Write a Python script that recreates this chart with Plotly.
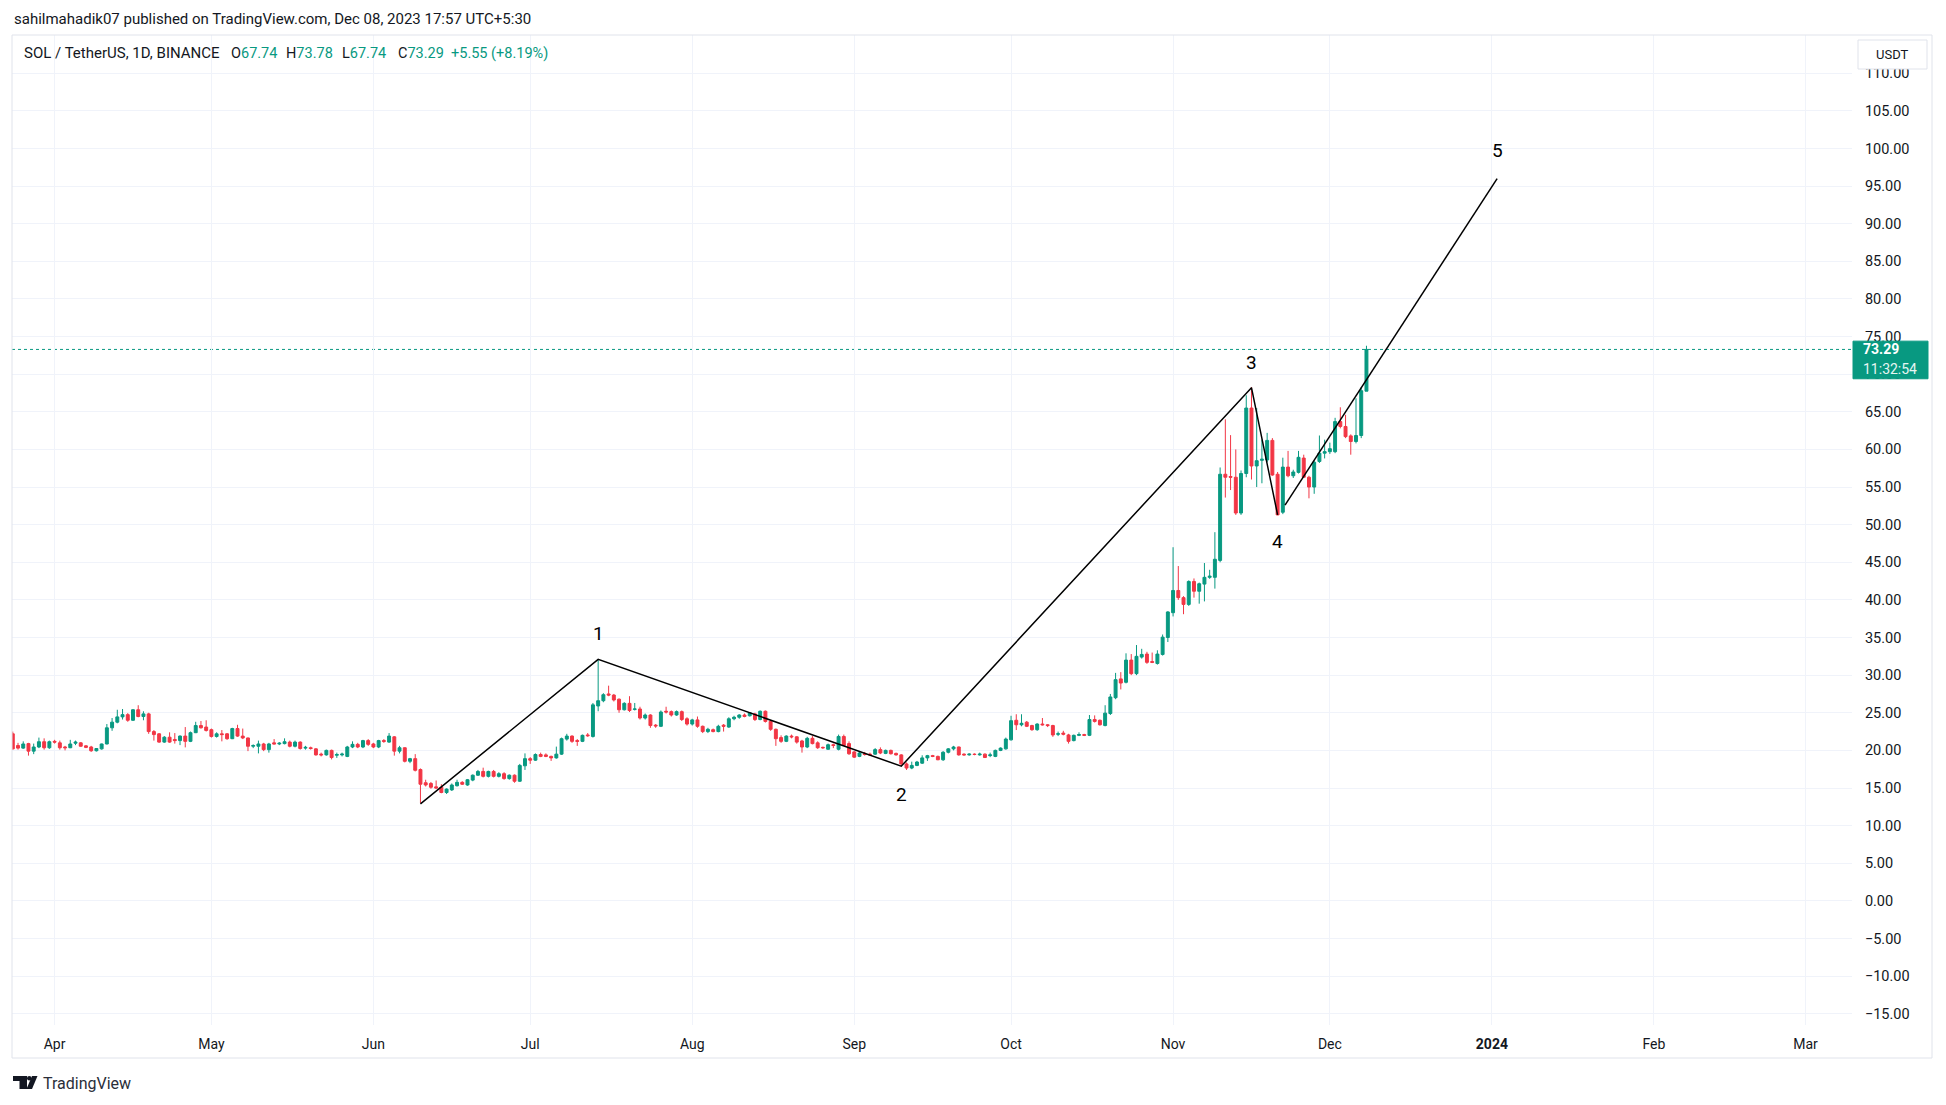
import pandas as pd
import plotly.graph_objects as go

# ---------------- data ----------------
start_date = "2023-03-24"

opens = [
    22.2, 20.65, 20.3, 20.9, 19.9, 20.45, 21.15, 20.35,
    21.2, 21.0, 20.45, 20.35, 20.95, 21.0, 20.6, 20.45, 19.95, 20.2, 20.85, 23.0, 23.75, 24.45, 24.75, 24.0, 25.4, 24.5, 24.85, 22.5, 22.2, 21.1, 21.75, 21.45, 21.3, 21.9, 21.2, 22.35, 23.3, 23.1,
    22.75, 21.85, 22.2, 22.2, 21.55, 22.9, 21.9, 21.65, 20.55, 20.55, 20.85, 20.1, 21.0, 20.85, 20.9, 21.1, 20.55, 21.1, 20.3, 20.35, 20.2, 19.5, 19.4, 20.0, 19.35, 19.4, 19.2, 20.45, 20.8, 20.45, 21.3,
    20.85, 20.45, 21.3, 21.1, 21.8, 19.9, 20.35, 18.55, 18.9, 17.45, 15.7, 15.6, 15.15, 15.1, 14.4, 14.75, 15.3, 15.75, 15.4, 16.05, 16.7, 17.2, 16.55, 17.2, 16.55, 16.9, 16.25, 16.7, 15.9, 17.95,
    18.9, 18.7, 19.45, 19.4, 19.2, 19.0, 19.5, 21.5, 21.9, 21.3, 21.2, 22.05, 21.85, 25.9, 26.6, 27.5, 27.35, 26.8, 25.4, 26.25, 25.45, 25.5, 24.3, 24.7, 23.35, 23.2, 25.2, 25.15, 24.7, 25.15, 24.2,
    23.5, 24.05, 23.2, 22.5, 22.75, 22.5, 23.35, 23.1, 24.2, 24.4, 24.7, 24.6, 24.85, 24.1, 25.2, 23.85, 22.8, 21.7, 21.2, 21.9, 21.8, 21.25, 20.45, 21.6, 21.0, 20.4, 20.15, 20.75, 20.15, 21.85, 20.9,
    19.8, 19.2, 19.55, 19.5, 19.5, 20.1, 19.6, 20.0, 19.6, 19.4, 18.2, 17.65, 18.0, 18.3, 19.0, 19.3, 19.2, 18.75, 19.75, 20.2, 20.45, 19.5, 19.4, 19.5, 19.4, 19.5, 19.3, 19.2, 20.0, 20.2,
    21.4, 24.0, 23.4, 23.75, 23.3, 22.75, 23.5, 23.4, 23.3, 22.15, 22.3, 22.05, 21.3, 22.0, 22.1, 22.0, 24.1, 24.0, 23.3, 24.9, 27.0, 29.5, 29.05, 32.0, 30.2, 32.4, 32.8, 31.8, 31.55, 32.75, 35.0,
    38.3, 41.25, 40.3, 39.4, 42.45, 41.15, 42.1, 43.0, 43.0, 45.25, 56.7, 56.4, 56.3, 51.55, 56.8, 65.5, 57.8, 58.55, 58.6, 61.2, 56.7, 51.65, 57.65, 56.5, 56.95, 58.85, 56.3, 55.0, 58.4, 59.5,
    59.7, 59.7, 63.7, 63.05, 61.8, 61.05, 61.85, 67.74,
]
highs = [
    22.5, 21.0, 21.2, 21.0, 20.9, 21.7, 21.6, 21.3,
    21.4, 21.3, 20.6, 21.4, 21.3, 21.1, 20.7, 20.6, 20.3, 20.9, 23.5, 24.3, 25.4, 25.5, 24.95, 25.5, 26.0, 25.2, 25.0, 22.7, 22.3, 21.9, 22.4, 22.3, 22.0, 23.1, 22.5, 23.8, 23.9, 24.0,
    22.9, 22.4, 22.7, 22.3, 23.0, 23.4, 22.9, 21.7, 20.8, 21.3, 21.0, 21.0, 21.5, 21.1, 21.6, 21.3, 21.3, 21.2, 20.6, 20.5, 20.3, 19.7, 20.1, 20.1, 19.7, 19.7, 20.6, 21.2, 21.0, 21.4, 21.5,
    21.0, 21.4, 21.5, 22.3, 21.9, 20.6, 20.4, 19.0, 19.5, 17.6, 16.1, 15.8, 16.0, 15.5, 14.95, 15.6, 16.1, 15.9, 16.2, 16.8, 17.4, 17.7, 17.3, 17.4, 17.1, 17.1, 16.8, 16.8, 18.2, 19.6,
    19.1, 19.6, 19.7, 19.6, 19.3, 20.5, 21.7, 22.2, 22.0, 21.5, 22.1, 22.3, 26.3, 32.1, 27.6, 28.6, 27.5, 26.9, 26.4, 27.2, 26.3, 25.8, 24.9, 24.8, 23.5, 25.3, 25.8, 25.3, 25.3, 25.3, 24.4,
    24.2, 24.5, 23.3, 23.0, 22.9, 23.4, 23.5, 24.4, 24.6, 24.8, 24.9, 25.1, 25.0, 25.3, 25.3, 24.0, 22.9, 22.0, 22.0, 22.1, 21.9, 21.4, 21.8, 21.9, 21.2, 20.5, 20.9, 20.9, 22.1, 22.1, 21.2,
    19.9, 19.8, 19.8, 19.7, 20.3, 20.4, 20.1, 20.1, 19.7, 19.5, 18.4, 18.5, 18.6, 19.35, 19.4, 19.4, 19.3, 19.9, 20.3, 20.6, 20.5, 19.6, 19.6, 19.6, 19.7, 19.6, 19.7, 20.1, 20.4, 21.7,
    24.6, 24.8, 24.8, 23.9, 23.4, 23.6, 24.3, 23.5, 23.4, 22.5, 22.6, 22.2, 22.1, 22.4, 22.2, 24.7, 24.65, 24.1, 26.0, 27.5, 30.3, 30.4, 32.9, 32.8, 34.0, 33.5, 33.1, 33.0, 33.3, 35.4, 38.5,
    47.0, 44.5, 40.5, 42.6, 42.85, 42.3, 44.9, 44.0, 49.0, 57.6, 64.0, 61.9, 60.0, 57.2, 67.2, 68.3, 65.5, 61.3, 62.2, 61.5, 57.0, 58.9, 59.8, 57.3, 59.8, 59.3, 56.5, 58.5, 61.85, 61.3,
    60.9, 64.2, 65.6, 64.6, 62.0, 66.8, 68.3, 73.78,
]
lows = [
    20.1, 20.1, 20.2, 19.3, 19.5, 20.3, 20.1, 20.2,
    20.9, 20.1, 20.0, 20.3, 20.7, 20.5, 20.3, 19.8, 19.85, 20.1, 20.8, 22.6, 23.6, 24.1, 23.8, 23.9, 24.4, 24.0, 22.2, 21.3, 21.0, 21.0, 21.0, 20.9, 20.7, 20.4, 21.1, 22.3, 22.9, 22.5,
    21.7, 21.7, 21.2, 21.4, 21.5, 21.8, 21.5, 19.9, 20.3, 19.6, 19.9, 19.7, 20.8, 20.7, 20.8, 20.4, 20.4, 20.1, 20.1, 20.1, 19.3, 19.2, 19.3, 18.8, 19.0, 19.2, 19.1, 20.3, 20.3, 20.3, 20.6,
    20.3, 20.3, 21.0, 21.0, 19.3, 19.6, 18.4, 18.3, 17.2, 13.0, 15.2, 14.9, 14.9, 14.3, 14.2, 14.6, 15.2, 15.4, 15.3, 15.9, 16.6, 16.4, 16.4, 16.4, 16.4, 16.1, 16.1, 15.7, 15.8, 17.4,
    18.2, 18.6, 19.1, 19.1, 18.6, 18.9, 19.4, 21.3, 21.0, 20.6, 21.1, 21.8, 21.7, 25.2, 26.4, 27.2, 26.5, 25.0, 25.3, 25.1, 25.3, 24.1, 24.1, 23.0, 23.0, 23.1, 24.9, 24.5, 24.6, 23.9, 23.3,
    23.3, 23.0, 22.3, 22.3, 22.4, 22.4, 22.5, 23.0, 24.0, 24.2, 24.4, 24.5, 23.9, 24.0, 23.7, 22.6, 20.6, 21.0, 21.1, 21.6, 20.9, 19.7, 20.3, 20.8, 20.2, 20.2, 20.1, 20.3, 20.0, 20.6, 19.4,
    19.0, 19.1, 19.3, 19.3, 19.4, 19.5, 19.5, 19.45, 19.3, 17.9, 17.4, 17.5, 17.9, 18.2, 18.6, 19.1, 18.7, 18.6, 19.6, 20.0, 19.3, 19.3, 19.3, 19.35, 19.3, 19.0, 19.1, 19.1, 19.9, 20.1,
    21.3, 22.7, 23.2, 23.1, 22.6, 22.6, 23.3, 23.1, 21.8, 21.9, 22.0, 20.9, 21.2, 21.9, 21.9, 21.9, 23.7, 23.3, 23.2, 24.7, 26.8, 28.1, 28.9, 30.0, 30.0, 32.2, 31.5, 31.6, 31.4, 32.6, 34.4,
    37.8, 40.0, 38.1, 39.2, 40.3, 39.5, 39.8, 42.8, 41.5, 45.0, 53.6, 54.6, 51.3, 51.3, 56.3, 56.0, 55.0, 55.5, 58.3, 56.5, 51.25, 51.4, 56.3, 56.2, 56.8, 56.2, 53.5, 54.1, 58.2, 58.8,
    59.4, 59.5, 62.8, 61.5, 59.3, 60.8, 61.5, 67.74,
]
closes = [
    20.2, 20.3, 20.85, 19.9, 20.45, 21.15, 20.35, 21.15,
    21.1, 20.35, 20.35, 20.85, 21.1, 20.55, 20.4, 19.95, 20.25, 20.85, 23.0, 23.75, 24.45, 24.75, 24.0, 25.4, 24.5, 24.85, 22.5, 22.1, 21.1, 21.75, 21.1, 21.3, 21.9, 21.2, 22.35, 23.3, 23.0, 22.65,
    21.85, 22.2, 22.1, 21.55, 22.9, 21.9, 21.65, 20.55, 20.65, 20.85, 20.1, 20.85, 20.85, 20.95, 21.15, 20.55, 21.1, 20.25, 20.4, 20.25, 19.4, 19.4, 20.0, 19.05, 19.45, 19.5, 20.45, 20.8, 20.45, 21.3, 20.8,
    20.45, 21.3, 21.2, 21.9, 19.9, 20.35, 18.55, 18.9, 17.35, 15.5, 15.4, 15.1, 15.0, 14.4, 14.85, 15.4, 15.75, 15.5, 16.1, 16.7, 17.2, 16.55, 17.2, 16.55, 16.9, 16.25, 16.7, 15.9, 18.0, 18.9,
    18.7, 19.45, 19.2, 19.2, 19.0, 19.5, 21.55, 21.9, 21.2, 21.2, 22.0, 21.95, 26.05, 26.6, 27.4, 27.35, 26.7, 25.4, 26.25, 25.3, 25.5, 24.3, 24.7, 23.3, 23.25, 25.1, 25.1, 24.7, 25.15, 24.1, 23.5,
    24.05, 23.2, 22.5, 22.8, 22.5, 23.2, 23.2, 24.2, 24.4, 24.7, 24.5, 25.0, 24.1, 25.2, 23.85, 22.8, 21.55, 21.2, 21.9, 21.8, 21.1, 20.45, 21.6, 20.9, 20.35, 20.35, 20.75, 20.65, 21.85, 20.65, 19.55,
    19.1, 19.65, 19.45, 19.4, 20.1, 19.65, 20.0, 19.55, 19.4, 18.2, 17.65, 18.0, 18.45, 19.0, 19.3, 19.2, 18.75, 19.75, 20.2, 20.45, 19.4, 19.4, 19.5, 19.45, 19.5, 19.05, 19.4, 20.0, 20.3, 21.5,
    23.95, 23.4, 23.6, 23.2, 22.75, 23.5, 23.4, 23.3, 22.05, 22.2, 22.15, 21.2, 22.0, 22.1, 22.0, 24.1, 23.85, 23.4, 24.95, 27.1, 29.4, 28.95, 32.0, 30.2, 32.5, 32.75, 31.7, 31.7, 32.8, 35.05, 38.4,
    41.25, 40.3, 39.4, 42.45, 41.15, 42.15, 43.0, 43.15, 45.4, 56.7, 56.3, 56.3, 51.55, 56.8, 65.5, 57.8, 58.5, 58.7, 61.2, 56.6, 51.3, 57.65, 56.5, 57.0, 58.95, 56.3, 55.0, 58.3, 59.5, 59.7,
    60.1, 63.7, 63.05, 61.7, 61.05, 61.85, 67.8, 73.29,
]
dates = pd.date_range(start_date, periods=len(opens), freq="D")

# Elliott wave drawing
wave_dates = ["2023-06-10", "2023-07-14", "2023-09-10", "2023-11-16", "2023-11-21"]
wave_prices = [12.9, 32.1, 17.9, 68.2, 51.3]
wave5_dates = ["2023-11-22 10:00", "2024-01-02"]
wave5_prices = [52.6, 96.0]
wave_labels = ["1", "2", "3", "4", "5"]
label_dates = ["2023-07-14", "2023-09-10", "2023-11-16", "2023-11-21", "2024-01-02"]
label_prices = [35.5, 14.2, 71.6, 47.7, 99.7]

price_ticks = [-15, -10, -5, 0, 5, 10, 15, 20, 25, 30, 35, 40, 45, 50, 55, 60, 65, 70, 75, 80, 85, 90, 95, 100, 105, 110]
month_ticks = ["2023-04-01", "2023-05-01", "2023-06-01", "2023-07-01", "2023-08-01", "2023-09-01",
               "2023-10-01", "2023-11-01", "2023-12-01", "2024-01-01", "2024-02-01", "2024-03-01"]
month_labels = ["Apr", "May", "Jun", "Jul", "Aug", "Sep", "Oct", "Nov", "Dec", "<b>2024</b>", "Feb", "Mar"]

header_text = "sahilmahadik07 published on TradingView.com, Dec 08, 2023 17:57 UTC+5:30"
symbol_text = "SOL / TetherUS, 1D, BINANCE"
last_time_text = "11:32:54"

# ---------------- style ----------------
GREEN = "#089981"
RED = "#F23645"
TEXT = "#131722"
GRID = "#f0f3fa"
FRAME = "#e0e3eb"
FONT = "Roboto, Noto Sans, sans-serif"

OFF = 8                       # default page body margin of the html page
W, H = 1946 - OFF, 1105 - OFF
# plot area in page pixels
P_L, P_R, P_T, P_B = 12, 1852, 35, 1025
PL, PR, PT, PB = P_L - OFF, P_R - OFF, P_T - OFF, P_B - OFF


def fx(px):
    """page pixel x -> paper x"""
    return (px - P_L) / (P_R - P_L)


def fy(py):
    """page pixel y -> paper y"""
    return (P_B - py) / (P_B - P_T)


last_close = closes[-1]
last_open = opens[-1]
chg = last_close - last_open

fig = go.Figure()
fig.add_trace(go.Candlestick(
    x=dates, open=opens, high=highs, low=lows, close=closes,
    increasing=dict(line=dict(color=GREEN, width=1), fillcolor=GREEN),
    decreasing=dict(line=dict(color=RED, width=1), fillcolor=RED),
    whiskerwidth=0, showlegend=False, hoverinfo="skip",
))
fig.add_trace(go.Scatter(x=wave_dates, y=wave_prices, mode="lines",
                         line=dict(color="#000000", width=1.5), showlegend=False, hoverinfo="skip"))
fig.add_trace(go.Scatter(x=wave5_dates, y=wave5_prices, mode="lines",
                         line=dict(color="#000000", width=1.5), showlegend=False, hoverinfo="skip"))

annotations = []
for lab, d, p in zip(wave_labels, label_dates, label_prices):
    annotations.append(dict(x=d, y=p, xref="x", yref="y", text=lab, showarrow=False,
                            font=dict(family=FONT, size=19, color="#000000"),
                            xanchor="center", yanchor="middle"))

# header
annotations.append(dict(x=fx(12), y=fy(19), xref="paper", yref="paper", text=header_text,
                        showarrow=False, xanchor="left", yanchor="middle",
                        font=dict(family=FONT, size=15, color=TEXT)))


def val(s):
    return "<span style='color:%s'>%s</span>" % (GREEN, s)


legend_parts = [
    (22, symbol_text, 15),
    (229, "O" + val("%.2f" % opens[-1]), 14.5),
    (284, "H" + val("%.2f" % highs[-1]), 14.5),
    (340, "L" + val("%.2f" % lows[-1]), 14.5),
    (396, "C" + val("%.2f" % closes[-1]), 14.5),
    (449, val("+%.2f (+%.2f%%)" % (chg, chg / last_open * 100)), 14.5),
]
for xpos, t, sz in legend_parts:
    annotations.append(dict(x=fx(xpos), y=fy(53), xref="paper", yref="paper", text=t,
                            showarrow=False, xanchor="left", yanchor="middle",
                            font=dict(family=FONT, size=sz, color=TEXT)))

# USDT box text
annotations.append(dict(x=fx(1892.5), y=fy(54.5), xref="paper", yref="paper", text="USDT",
                        showarrow=False, xanchor="center", yanchor="middle",
                        font=dict(family=FONT, size=13, color=TEXT)))
# last price label
annotations.append(dict(x=fx(1861), y=last_close, xref="paper", yref="y",
                        text="<b>%.2f</b>" % last_close, showarrow=False,
                        xanchor="left", yanchor="middle",
                        font=dict(family=FONT, size=14, color="#ffffff")))
annotations.append(dict(x=fx(1861), y=last_close - 2.6, xref="paper", yref="y",
                        text=last_time_text, showarrow=False,
                        xanchor="left", yanchor="middle",
                        font=dict(family=FONT, size=14, color="#e6f5f2")))
# TradingView footer
annotations.append(dict(x=fx(41), y=fy(1083), xref="paper", yref="paper", text="TradingView",
                        showarrow=False, xanchor="left", yanchor="middle",
                        font=dict(family=FONT, size=16, color="#2a2e39")))

shapes = [
    # outer frame
    dict(type="rect", xref="paper", yref="paper", x0=fx(12), x1=fx(1932), y0=fy(1058), y1=fy(35),
         line=dict(color=FRAME, width=1), fillcolor="rgba(0,0,0,0)", layer="above"),
    # last price dotted line
    dict(type="line", xref="paper", yref="y", x0=0, x1=1, y0=last_close, y1=last_close,
         line=dict(color=GREEN, width=1, dash="dot"), layer="below"),
    # last price box
    dict(type="rect", xref="paper", yref="y", x0=fx(1853), x1=fx(1928),
         y0=last_close - 3.9, y1=last_close + 1.1,
         line=dict(color=GREEN, width=1), fillcolor=GREEN, layer="above"),
    # USDT box
    dict(type="rect", xref="paper", yref="paper", x0=fx(1858), x1=fx(1927), y0=fy(69), y1=fy(40),
         line=dict(color=FRAME, width=1), fillcolor="#ffffff", layer="above"),
    # TradingView logo
    dict(type="rect", xref="paper", yref="paper", x0=fx(13), x1=fx(27), y0=fy(1081), y1=fy(1076),
         line=dict(width=0), fillcolor=TEXT, layer="above"),
    dict(type="rect", xref="paper", yref="paper", x0=fx(19.5), x1=fx(27), y0=fy(1089), y1=fy(1076),
         line=dict(width=0), fillcolor=TEXT, layer="above"),
    dict(type="circle", xref="paper", yref="paper", x0=fx(27), x1=fx(31.5), y0=fy(1080.5), y1=fy(1076),
         line=dict(width=0), fillcolor=TEXT, layer="above"),
    dict(type="path", xref="paper", yref="paper",
         path="M %f,%f L %f,%f L %f,%f L %f,%f Z" % (fx(32), fy(1076), fx(37.5), fy(1076),
                                                    fx(32), fy(1089), fx(26.5), fy(1089)),
         line=dict(width=0), fillcolor=TEXT, layer="above"),
]

x_start = pd.Timestamp("2023-04-01") - pd.Timedelta(days=8.15)
x_end = pd.Timestamp("2023-04-01") + pd.Timedelta(days=343.9)

fig.update_layout(
    width=W, height=H,
    margin=dict(l=PL, r=W - PR, t=PT, b=H - PB, pad=0),
    paper_bgcolor="#ffffff", plot_bgcolor="#ffffff",
    font=dict(family=FONT, color=TEXT),
    boxgap=0.2,
    annotations=annotations,
    shapes=shapes,
    xaxis=dict(
        type="date", range=[x_start, x_end],
        tickmode="array", tickvals=month_ticks, ticktext=month_labels,
        showgrid=True, gridcolor=GRID, gridwidth=1,
        zeroline=False, showline=False,
        ticks="outside", ticklen=6, tickcolor="rgba(0,0,0,0)",
        tickfont=dict(family=FONT, size=14, color=TEXT),
        rangeslider=dict(visible=False), fixedrange=True,
    ),
    yaxis=dict(
        side="right", range=[-16.5, 115.08],
        tickmode="array", tickvals=price_ticks, tickformat=".2f",
        showgrid=True, gridcolor=GRID, gridwidth=1,
        zeroline=False, showline=False,
        ticks="outside", ticklen=9, tickcolor="rgba(0,0,0,0)",
        tickfont=dict(family=FONT, size=14.5, color=TEXT),
        fixedrange=True,
    ),
)

fig.write_html("out.html")
